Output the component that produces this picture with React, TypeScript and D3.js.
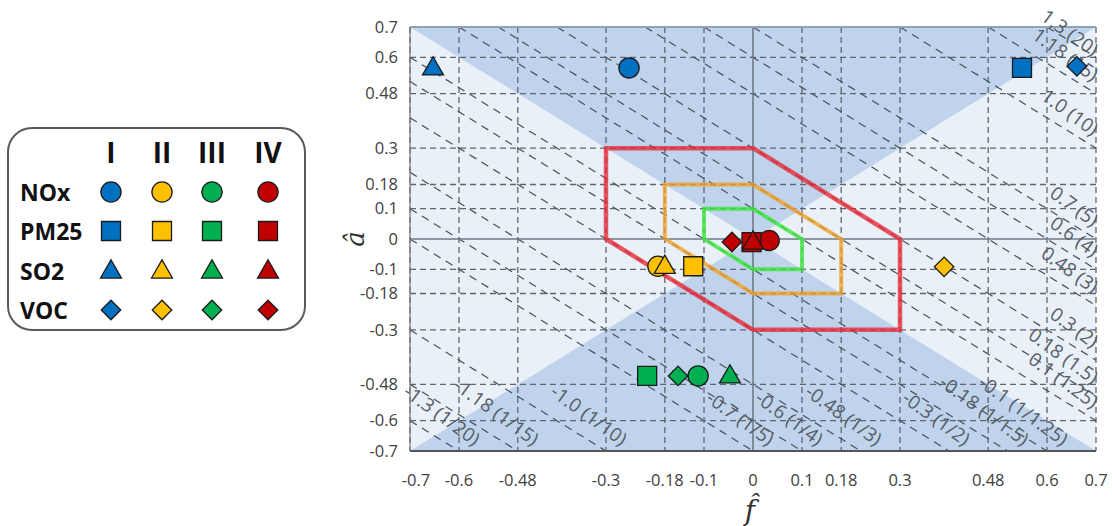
import React from 'react';
import * as d3 from 'd3';

const pollutants = ['NOx', 'PM25', 'SO2', 'VOC'];
const groups = ['I', 'II', 'III', 'IV'];
const groupColors = ['#0070c0', '#ffc000', '#00b050', '#c00000'];
const tickValues = [-0.7, -0.6, -0.48, -0.3, -0.18, -0.1, 0, 0.1, 0.18, 0.3, 0.48, 0.6, 0.7];
const hexLevels = [0.3, 0.18, 0.1];
const hexColors = ['rgba(232,40,52,0.78)', 'rgba(240,160,40,0.78)', 'rgba(60,230,60,0.8)'];
const contourLevels = [0.1, 0.18, 0.3, 0.48, 0.6, 0.7, 1.0, 1.18, 1.3];
const ratioLabels = ['1.25', '1.5', '2', '3', '4', '5', '10', '15', '20'];

// f-hat / a-hat values per group, pollutant order NOx, PM25, SO2, VOC
const fI = [-0.253, 0.549, -0.653, 0.661];
const aI = [0.565, 0.565, 0.565, 0.57];
const fII = [-0.194, -0.122, -0.18, 0.39];
const aII = [-0.09, -0.09, -0.09, -0.092];
const fIII = [-0.112, -0.216, -0.047, -0.153];
const aIII = [-0.452, -0.452, -0.452, -0.452];
const fIV = [0.033, -0.003, 0.0, -0.043];
const aIV = [-0.005, -0.01, -0.01, -0.01];
const fByGroup = [fI, fII, fIII, fIV];
const aByGroup = [aI, aII, aIII, aIV];

const FONT = '"Open Sans", "Liberation Sans", sans-serif';

function symbolPath(k: number) {
  if (k === 0) return d3.symbol(d3.symbolCircle, 320)()!;
  if (k === 1) return d3.symbol(d3.symbolSquare, 361)()!;
  if (k === 2) return d3.symbol(d3.symbolTriangle, 190)()!;
  return d3.symbol(d3.symbolSquare, 190)()!;
}

function Marker({ k, color, x, y }: { k: number; color: string; x: number; y: number }) {
  const rot = k === 3 ? 45 : 0;
  const dy = k === 2 ? 1 : 0;
  return (
    <path
      d={symbolPath(k)}
      transform={`translate(${x},${y + dy}) rotate(${rot})`}
      fill={color}
      stroke="#1a1a1a"
      strokeWidth={1.3}
    />
  );
}

const fmt = (v: number) => (v === 1 ? '1.0' : String(v));

export default function App() {
  const x = d3.scaleLinear().domain([-0.7, 0.7]).range([410, 1096]);
  const y = d3.scaleLinear().domain([-0.7, 0.7]).range([451, 27]);
  const line = d3.line<[number, number]>().x((d) => x(d[0])).y((d) => y(d[1]));
  const x0 = x(-0.7), x1 = x(0.7), y0 = y(0.7), y1 = y(-0.7);
  const textAngle = 36;

  const allLevels: { c: number; label: string }[] = [];
  contourLevels.forEach((c, i) => {
    allLevels.push({ c, label: `${fmt(c)} (${ratioLabels[i]})` });
    allLevels.push({ c: -c, label: `-${fmt(c)} (1/${ratioLabels[i]})` });
  });

  const legX = [111, 162, 212, 268];
  const legY = [192, 231, 271, 310];

  return (
    <svg width={1112} height={526} style={{ position: 'absolute', left: 0, top: 0, background: '#fff' }}>
      {/* legend */}
      <g>
        <rect x={8} y={128} width={297} height={202} rx={24} fill="#fff" stroke="#5a5a5a" strokeWidth={2} />
        {groups.map((g, j) => (
          <text key={g} x={legX[j]} y={163} textAnchor="middle" fontFamily={FONT}
            fontWeight="bold" fontSize={28} fill="#111">{g}</text>
        ))}
        {pollutants.map((p, i) => (
          <g key={p}>
            <text x={20} y={legY[i] + 9} fontFamily={FONT} fontWeight="bold" fontSize={23}
              fill="#111">{p}</text>
            {groupColors.map((c, j) => (
              <Marker key={j} k={i} color={c} x={legX[j]} y={legY[i]} />
            ))}
          </g>
        ))}
      </g>

      {/* plot background */}
      <rect x={x0} y={y0} width={x1 - x0} height={y1 - y0} fill="#e9f0f8" />
      <path d={line([[-0.7, 0.7], [0.7, 0.7], [0, 0]])! + 'Z'} fill="#bfd4ec" />
      <path d={line([[-0.7, -0.7], [0.7, -0.7], [0, 0]])! + 'Z'} fill="#bfd4ec" />

      {/* grid */}
      {tickValues.filter((t) => t !== 0).map((t) => (
        <g key={t}>
          <line x1={x(t)} x2={x(t)} y1={y0} y2={y1} stroke="#5f6670" strokeWidth={1.3} strokeDasharray="6,4" />
          {Math.abs(t) < 0.7 && (
            <line x1={x0} x2={x1} y1={y(t)} y2={y(t)} stroke="#5f6670" strokeWidth={1.3} strokeDasharray="6,4" />
          )}
        </g>
      ))}

      {/* diagonal contours */}
      {allLevels.map(({ c }) => {
        const fa = Math.max(-0.7, c - 0.7);
        const fb = Math.min(0.7, c + 0.7);
        return (
          <path key={'d' + c} d={line([[fa, c - fa], [fb, c - fb]])!} stroke="#4a4f58" strokeWidth={1.2}
            strokeDasharray="8,6" fill="none" />
        );
      })}

      {/* axes */}
      <line x1={x0} x2={x1} y1={y(0)} y2={y(0)} stroke="#6e7a88" strokeWidth={1.6} />
      <line x1={x(0)} x2={x(0)} y1={y0} y2={y1} stroke="#6e7a88" strokeWidth={1.6} />
      <line x1={x0} x2={x1} y1={y0} y2={y0} stroke="#8ea2ba" strokeWidth={2} />
      <line x1={x0} x2={x1} y1={y1} y2={y1} stroke="#555" strokeWidth={2} />
      <line x1={x0} x2={x0} y1={y0} y2={y1} stroke="#777" strokeWidth={1.2} />

      {/* hexagons */}
      {hexLevels.map((h, i) => (
        <path key={h} d={line([[-h, h], [0, h], [h, 0], [h, -h], [0, -h], [-h, 0]])! + 'Z'} fill="none"
          stroke={hexColors[i]} strokeWidth={i === 0 ? 4.5 : 4} strokeLinejoin="miter" />
      ))}

      {/* contour labels */}
      {allLevels.map(({ c, label }) => {
        let fe: number, ae: number;
        if (c > 0) {
          fe = 0.692;
          ae = Math.min(c + 0.03 - fe, 0.6);
        } else {
          ae = -0.685;
          fe = c + 0.045 - ae;
        }
        return (
          <text key={'l' + c} transform={`translate(${x(fe)},${y(ae)}) rotate(${textAngle})`} textAnchor="end"
            fontFamily={FONT} fontSize={19} fill="#575d66">{label}</text>
        );
      })}

      {/* markers */}
      {groups.map((g, j) => (
        <g key={g}>
          {pollutants.map((p, i) => (
            <Marker key={p} k={i} color={groupColors[j]} x={x(fByGroup[j][i])} y={y(aByGroup[j][i])} />
          ))}
        </g>
      ))}

      {/* tick labels */}
      {tickValues.map((t) => (
        <text key={'y' + t} x={398} y={y(t)} dy="0.35em" textAnchor="end" fontFamily={FONT} fontSize={16.5}
          fill="#404040">{t}</text>
      ))}
      {tickValues.map((t) => (
        <text key={'x' + t} x={x(t) + (t === -0.7 ? 6 : 0)} y={480} dy="0.35em" textAnchor="middle"
          fontFamily={FONT} fontSize={16.5} fill="#404040">{t}</text>
      ))}

      {/* axis titles */}
      <text x={750} y={520} textAnchor="middle" fontFamily='"DejaVu Serif", serif' fontStyle="italic"
        fontSize={28} fill="#333">{'f\u0302'}</text>
      <text transform={`translate(364,${y(0)}) rotate(-90)`} textAnchor="middle" fontFamily='"DejaVu Serif", serif'
        fontStyle="italic" fontSize={26} fill="#333">{'\u00e2'}</text>
    </svg>
  );
}
